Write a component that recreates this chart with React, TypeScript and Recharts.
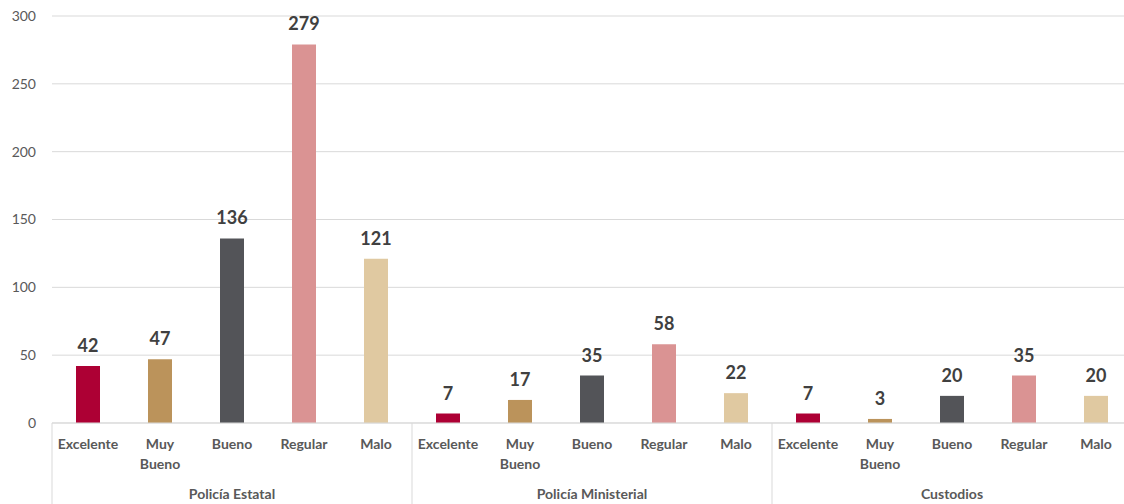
import { BarChart, Bar, XAxis, YAxis, CartesianGrid, Cell, LabelList } from 'recharts';

const groups = ['Policía Estatal', 'Policía Ministerial', 'Custodios'];
const ratings = ['Excelente', 'Muy Bueno', 'Bueno', 'Regular', 'Malo'];
const estatal = [42, 47, 136, 279, 121];
const ministerial = [7, 17, 35, 58, 22];
const custodios = [7, 3, 20, 35, 20];
const ratingColors = ['#ad0034', '#bb935b', '#535458', '#da9393', '#e0c9a1'];
const yTicks = [0, 50, 100, 150, 200, 250, 300];

const FONT = 'Lato, "Open Sans", sans-serif';
const GRID = '#d9d9d9';

const data = [estatal, ministerial, custodios].flatMap((vals, g) =>
  vals.map((v, i) => ({ key: `${g}-${i}`, rating: ratings[i], group: groups[g], ri: i, value: v }))
);

function CategoryTick(props: any) {
  const { x, y, index, payload } = props;
  const half = payload?.offset || 36;
  const row = data[index];
  if (!row) return null;
  const words = row.rating.split(' ');
  const n = ratings.length;
  return (
    <g>
      {words.map((w: string, k: number) => (
        <text
          key={k}
          x={x}
          y={y + 26 + k * 20}
          textAnchor="middle"
          fontFamily={FONT}
          fontSize={14}
          fontWeight={700}
          fill="#595959"
        >
          {w}
        </text>
      ))}
      {index % n === 2 && (
        <text x={x} y={y + 76} textAnchor="middle" fontFamily={FONT} fontSize={14} fontWeight={700} fill="#595959">
          {row.group}
        </text>
      )}
      {index % n === 0 && <line x1={x - half} x2={x - half} y1={y} y2={y + 90} stroke={GRID} />}
      {index === data.length - 1 && <line x1={x + half} x2={x + half} y1={y} y2={y + 90} stroke={GRID} />}
    </g>
  );
}

export default function App() {
  return (
    <div style={{ position: 'fixed', left: 0, top: 0, width: 1124, height: 504, overflow: 'hidden', background: '#fff' }}>
      <BarChart width={1132} height={504} data={data} margin={{ top: 16, right: 0, bottom: 0, left: 8 }}>
        <CartesianGrid vertical={false} stroke={GRID} />
        <XAxis
          dataKey="key"
          interval={0}
          height={81}
          tickLine={false}
          tickSize={0}
          tickMargin={0}
          axisLine={{ stroke: GRID }}
          tick={<CategoryTick />}
        />
        <YAxis
          width={44}
          domain={[0, 300]}
          ticks={yTicks}
          axisLine={false}
          tickLine={false}
          tickMargin={10}
          tick={{ fontFamily: FONT, fontSize: 14, fill: '#595959' }}
        />
        <Bar dataKey="value" barSize={24} isAnimationActive={false}>
          {data.map((d) => (
            <Cell key={d.key} fill={ratingColors[d.ri]} />
          ))}
          <LabelList
            dataKey="value"
            position="top"
            offset={14}
            style={{ fontFamily: FONT, fontSize: 18, fontWeight: 700, fill: '#404040' }}
          />
        </Bar>
      </BarChart>
    </div>
  );
}
